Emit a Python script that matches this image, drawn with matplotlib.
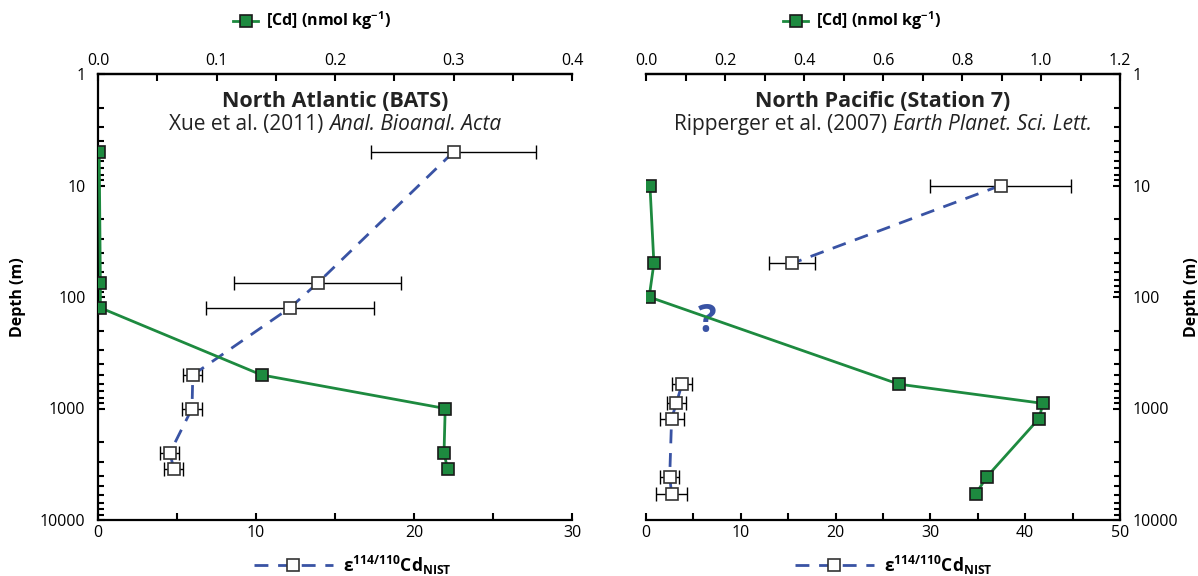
import matplotlib
matplotlib.use("Agg")
import matplotlib.pyplot as plt
from matplotlib.lines import Line2D
from matplotlib.ticker import FixedLocator, NullFormatter, MultipleLocator, FormatStrFormatter

plt.rcParams['font.family'] = ['Open Sans', 'DejaVu Sans']
plt.rcParams['mathtext.fontset'] = 'custom'
plt.rcParams['mathtext.rm'] = 'Open Sans'
plt.rcParams['mathtext.it'] = 'Open Sans:italic'
plt.rcParams['mathtext.bf'] = 'Open Sans:bold'

# North Atlantic (BATS) - Xue et al. 2011
atl_eps_depth = [5, 75, 125, 500, 1000, 2500, 3500]
atl_eps = [22.5, 13.9, 12.15, 6.0, 5.95, 4.55, 4.8]
atl_eps_err = [5.25, 5.3, 5.3, 0.6, 0.63, 0.6, 0.6]
atl_cd_depth = [5, 75, 125, 500, 1000, 2500, 3500]
atl_cd = [0.001, 0.002, 0.002, 0.138, 0.293, 0.292, 0.295]

# North Pacific (Station 7) - Ripperger et al. 2007
pac_eps_depth = [10, 50, 600, 900, 1230, 4090, 5830]
pac_eps = [37.4, 15.4, 3.8, 3.2, 2.7, 2.5, 2.7]
pac_eps_err = [7.4, 2.4, 1.05, 1.0, 1.27, 1.0, 1.6]
pac_cd_depth = [10, 50, 100, 605, 900, 1230, 4090, 5830]
pac_cd = [0.01, 0.02, 0.008, 0.64, 1.005, 0.995, 0.863, 0.835]

# connected runs of the isotope profile (Pacific has a gap between 50 and 600 m)
atl_runs = [(0, 7)]
pac_runs = [(0, 2), (2, 7)]

green = '#1d8a3f'
blue = '#3953a4'
W, H = 1198, 576

fig = plt.figure(figsize=(W / 100, H / 100), dpi=100)
subtitles = []


def panel(left_px, eps_d, eps, err, runs, cd_d, cd, eps_max, cd_max, cd_step, cd_minor,
          title, sub_plain, sub_ital, side):
    ax = fig.add_axes([left_px / W, 56 / H, 474 / W, 446 / H])
    ax.set_yscale('log')
    ax.set_ylim(10000, 1)
    ax.set_xlim(0, eps_max)
    ax.errorbar(eps, eps_d, xerr=err, fmt='none', ecolor='black', elinewidth=1,
                capsize=5, capthick=1, zorder=2)
    for a, b in runs:
        ax.plot(eps[a:b], eps_d[a:b], color=blue, linestyle=(0, (5, 3.5)), linewidth=2,
                marker='s', markersize=8, markerfacecolor='white',
                markeredgecolor='#333333', markeredgewidth=1.2, zorder=3)
    ax.xaxis.set_major_locator(MultipleLocator(10))
    ax.xaxis.set_minor_locator(MultipleLocator(5))
    ax.yaxis.set_major_locator(FixedLocator([1, 10, 100, 1000, 10000]))
    ax.yaxis.set_major_formatter(FormatStrFormatter('%d'))
    ax.yaxis.set_minor_formatter(NullFormatter())
    ax.tick_params(which='both', direction='in', labelsize=11.5, width=1.5)
    ax.tick_params(which='major', length=5)
    ax.tick_params(which='minor', length=4)
    ax.tick_params(axis='x', which='minor', length=5)
    ax.tick_params(axis='y', pad=9)
    for s in ax.spines.values():
        s.set_linewidth(1.6)
    if side == 'left':
        ax.spines['right'].set_visible(False)
        ax.set_ylabel('Depth (m)', fontsize=11.5, fontweight='bold', labelpad=10)
    else:
        ax.spines['left'].set_visible(False)
        ax.yaxis.tick_right()
        ax.yaxis.set_label_position('right')
        ax.set_ylabel('Depth (m)', fontsize=11.5, fontweight='bold', labelpad=4)

    ax2 = ax.twiny()
    ax2.set_xlim(0, cd_max)
    ax2.plot(cd, cd_d, color=green, linewidth=2, marker='s', markersize=8,
             markerfacecolor=green, markeredgecolor='#1a1a1a', markeredgewidth=1.2,
             zorder=4)
    ax2.xaxis.set_major_locator(MultipleLocator(cd_step))
    ax2.xaxis.set_minor_locator(MultipleLocator(cd_minor))
    ax2.xaxis.set_major_formatter(FormatStrFormatter('%.1f'))
    ax2.tick_params(which='both', direction='in', labelsize=11.5, width=1.5, length=5)
    for k in ('left', 'right', 'bottom'):
        ax2.spines[k].set_visible(False)
    ax2.spines['top'].set_linewidth(1.6)

    ax.text(0.5, 0.939, title, transform=ax.transAxes, ha='center', va='center',
            fontsize=15.5, fontweight='bold', color='#222222')
    # subtitle: plain part + italic journal part, centred together afterwards
    t1 = ax.text(0.5, 0.886, sub_plain + ' ', transform=ax.transAxes, ha='left',
                 va='center', fontsize=15, color='#222222')
    t2 = ax.annotate(sub_ital, xy=(1, 0.5), xycoords=t1, ha='left', va='center',
                     fontsize=15, style='italic', color='#222222')
    subtitles.append((ax, t1, t2))
    return ax, ax2


ax_a, ax_a2 = panel(98, atl_eps_depth, atl_eps, atl_eps_err, atl_runs, atl_cd_depth, atl_cd,
                    30, 0.4, 0.1, 0.05, 'North Atlantic (BATS)',
                    'Xue et al. (2011)', 'Anal. Bioanal. Acta', 'left')
ax_p, ax_p2 = panel(646, pac_eps_depth, pac_eps, pac_eps_err, pac_runs, pac_cd_depth, pac_cd,
                    50, 1.2, 0.2, 0.1, 'North Pacific (Station 7)',
                    'Ripperger et al. (2007)', 'Earth Planet. Sci. Lett.', 'right')

ax_p.text(6.5, 165, '?', fontsize=28, fontweight='bold', color=blue,
          ha='center', va='center')

cd_handle = Line2D([], [], color=green, linewidth=2, marker='s', markersize=8,
                   markerfacecolor=green, markeredgecolor='#1a1a1a', markeredgewidth=1.2)
eps_handle = Line2D([], [], color=blue, linestyle=(0, (5, 3.5)), linewidth=2, marker='s',
                    markersize=8, markerfacecolor='white', markeredgecolor='#333333',
                    markeredgewidth=1.2)
cd_label = r'[Cd] (nmol kg$^{\mathbf{-1}}$)'
eps_label = r'$\mathbf{\varepsilon^{114/110}Cd_{NIST}}$'

for cx_top, cx_bot in ((312, 353), (862, 894)):
    fig.legend(handles=[cd_handle], labels=[cd_label], loc='center',
               bbox_to_anchor=(cx_top / W, 1 - 21 / H), frameon=False, handlelength=1.6,
               handletextpad=0.5, prop={'weight': 'bold', 'size': 11.5})
    fig.legend(handles=[eps_handle], labels=[eps_label], loc='center',
               bbox_to_anchor=(cx_bot / W, 1 - 565 / H), frameon=False, handlelength=4.5,
               handletextpad=0.6, prop={'weight': 'bold', 'size': 12.5})

# centre each two-part subtitle over its panel
fig.canvas.draw()
r = fig.canvas.get_renderer()
for ax, t1, t2 in subtitles:
    w = t1.get_window_extent(r).width + t2.get_window_extent(r).width
    aw = ax.get_window_extent(r).width
    t1.set_x(0.5 - w / 2 / aw)

fig.savefig('out.png', dpi=100)
